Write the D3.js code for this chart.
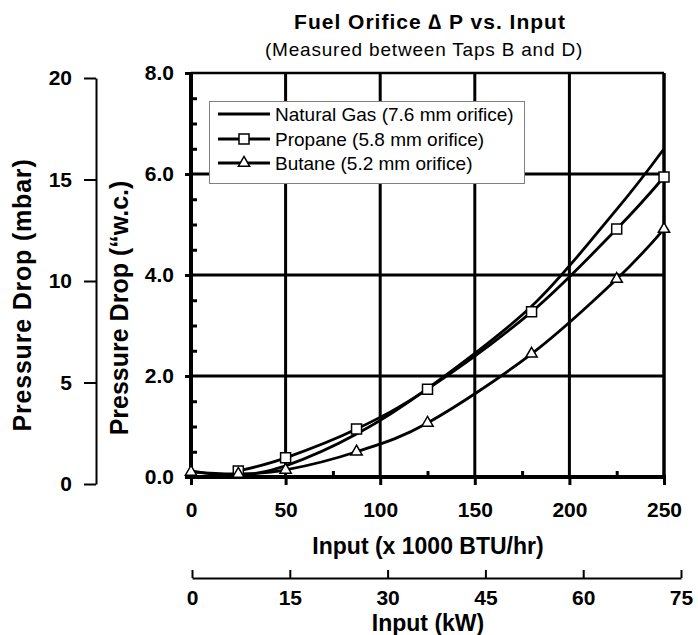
<!DOCTYPE html>
<html>
<head>
<meta charset="utf-8">
<script src="https://cdn.jsdelivr.net/npm/d3@7"></script>
<style>
  body { margin: 0; background: #fff; }
  svg { font-family: "Liberation Sans", Arial, sans-serif; }
</style>
</head>
<body>
<svg id="chart" width="698" height="635"></svg>
<script>
// input in 1000 BTU/hr, pressure drop in "w.c.
const gasInputs = [0, 25, 50, 87.5, 125, 180, 225, 250];
const naturalGas = [0.12, 0.03, 0.22, 0.85, 1.75, 3.38, 5.3, 6.5];
const propaneInputs = [25, 50, 87.5, 125, 180, 225, 250];
const propane = [0.12, 0.38, 0.95, 1.74, 3.27, 4.91, 5.94];
const butaneInputs = [0, 25, 50, 87.5, 125, 180, 225, 250];
const butane = [0.1, 0.06, 0.14, 0.5, 1.07, 2.44, 3.92, 4.91];

const seriesNames = ["Natural Gas (7.6 mm orifice)", "Propane (5.8 mm orifice)", "Butane (5.2 mm orifice)"];

const xTicks = [0, 50, 100, 150, 200, 250];
const xMinorTicks = [25, 75, 125, 175, 225];
const xGrid = [50, 100, 150, 200];
const yTicks = [0, 2, 4, 6, 8];
const yMinorTicks = [0.5, 1, 1.5, 2.5, 3, 3.5, 4.5, 5, 5.5, 6.5, 7, 7.5];
const yGrid = [2, 4, 6];
const mbarTicks = [0, 5, 10, 15, 20];
const kwTicks = [0, 15, 30, 45, 60, 75];

const svg = d3.select("#chart");

const x = d3.scaleLinear().domain([0, 250]).range([191, 664]);
const y = d3.scaleLinear().domain([0, 8]).range([477, 73]);
const mbar = d3.scaleLinear().domain([0, 20]).range([484, 78]);
const kw = d3.scaleLinear().domain([0, 75]).range([192, 681]);

// grid
svg.append("g").selectAll("line")
    .data(xGrid).enter().append("line")
    .attr("x1", d => x(d)).attr("x2", d => x(d))
    .attr("y1", y(8)).attr("y2", y(0))
    .attr("stroke", "#000").attr("stroke-width", 3);
svg.append("g").selectAll("line")
    .data(yGrid).enter().append("line")
    .attr("x1", x(0)).attr("x2", x(250))
    .attr("y1", d => y(d)).attr("y2", d => y(d))
    .attr("stroke", "#000").attr("stroke-width", 3);

// frame
svg.append("line").attr("x1", x(0)).attr("x2", x(250)).attr("y1", y(8)).attr("y2", y(8))
    .attr("stroke", "#000").attr("stroke-width", 2.5);
svg.append("line").attr("x1", x(250)).attr("x2", x(250)).attr("y1", y(8)).attr("y2", y(0))
    .attr("stroke", "#000").attr("stroke-width", 3.5);

function styleAxis(g, size, width) {
    g.selectAll("text")
        .attr("font-family", "Liberation Sans, Arial, sans-serif")
        .attr("font-size", size).attr("font-weight", "bold").attr("fill", "#000");
    g.selectAll("line").attr("stroke", "#000").attr("stroke-width", width);
    g.attr("font-family", null).attr("font-size", null);
}

// main x axis
const xAxis = svg.append("g").attr("transform", "translate(0," + y(0) + ")")
    .call(d3.axisBottom(x).tickValues(xTicks).tickSizeInner(8).tickSizeOuter(0).tickPadding(17));
xAxis.select(".domain").remove();
styleAxis(xAxis, 21, 3);
const xMinor = svg.append("g").attr("transform", "translate(0," + y(0) + ")")
    .call(d3.axisBottom(x).tickValues(xMinorTicks).tickSize(-6).tickFormat(""));
xMinor.select(".domain").remove();
styleAxis(xMinor, 21, 3);

// main y axis
const yAxis = svg.append("g").attr("transform", "translate(" + x(0) + ",0)")
    .call(d3.axisLeft(y).tickValues(yTicks).tickSizeInner(6).tickSizeOuter(0).tickPadding(11).tickFormat(d3.format(".1f")));
yAxis.select(".domain").remove();
styleAxis(yAxis, 21, 3);
const yMinor = svg.append("g").attr("transform", "translate(" + x(0) + ",0)")
    .call(d3.axisLeft(y).tickValues(yMinorTicks).tickSize(-6).tickFormat(""));
yMinor.select(".domain").remove();
styleAxis(yMinor, 21, 3);

svg.append("line").attr("x1", x(0)).attr("x2", x(0)).attr("y1", y(8) - 1).attr("y2", y(0) + 2)
    .attr("stroke", "#000").attr("stroke-width", 4);
svg.append("line").attr("x1", x(0) - 2).attr("x2", x(250) + 2).attr("y1", y(0)).attr("y2", y(0))
    .attr("stroke", "#000").attr("stroke-width", 4);

// mbar axis
const mbarAxis = svg.append("g").attr("transform", "translate(96,0)")
    .call(d3.axisLeft(mbar).tickValues(mbarTicks).tickSizeInner(12).tickSizeOuter(0).tickPadding(12));
mbarAxis.select(".domain").attr("stroke", "#000").attr("stroke-width", 2);
styleAxis(mbarAxis, 21, 2);

// kW axis
const kwAxis = svg.append("g").attr("transform", "translate(0,578)")
    .call(d3.axisBottom(kw).tickValues(kwTicks).tickSizeInner(-8).tickSizeOuter(0).tickPadding(12));
kwAxis.select(".domain").attr("stroke", "#000").attr("stroke-width", 2);
styleAxis(kwAxis, 21, 2);

// titles
svg.append("text").attr("x", 430).attr("y", 29).attr("text-anchor", "middle")
    .attr("font-size", 21).attr("font-weight", "bold").attr("letter-spacing", 1)
    .text("Fuel Orifice \u2206 P vs. Input");
svg.append("text").attr("x", 424).attr("y", 56).attr("text-anchor", "middle")
    .attr("font-size", 19).attr("letter-spacing", 0.8)
    .text("(Measured between Taps B and D)");
svg.append("text").attr("x", 428).attr("y", 554).attr("text-anchor", "middle")
    .attr("font-size", 23).attr("font-weight", "bold")
    .text("Input (x 1000 BTU/hr)");
svg.append("text").attr("x", 428).attr("y", 631).attr("text-anchor", "middle")
    .attr("font-size", 23).attr("font-weight", "bold")
    .text("Input (kW)");
svg.append("text").attr("transform", "translate(31,295) rotate(-90)").attr("text-anchor", "middle")
    .attr("font-size", 25).attr("font-weight", "bold").attr("letter-spacing", 0.8)
    .text("Pressure Drop (mbar)");
svg.append("text").attr("transform", "translate(128,308) rotate(-90)").attr("text-anchor", "middle")
    .attr("font-size", 25).attr("font-weight", "bold")
    .text("Pressure Drop (\u201cw.c.)");

// series
const line = d3.line()
    .x(d => x(d[0])).y(d => y(d[1]))
    .curve(d3.curveCardinal.tension(0));

const ngData = d3.zip(gasInputs, naturalGas);
const prData = d3.zip(propaneInputs, propane);
const buData = d3.zip(butaneInputs, butane);

[ngData, prData, buData].forEach(function(data) {
    svg.append("path").datum(data)
        .attr("d", line)
        .attr("fill", "none").attr("stroke", "#000").attr("stroke-width", 2.8);
});

const square = d3.symbol(d3.symbolSquare, 100);
const triangle = d3.symbol(d3.symbolTriangle, 55);

svg.append("g").selectAll("path")
    .data(prData).enter().append("path")
    .attr("transform", d => "translate(" + x(d[0]) + "," + y(d[1]) + ")")
    .attr("d", square)
    .attr("fill", "#fff").attr("stroke", "#000").attr("stroke-width", 1.5);
svg.append("g").selectAll("path")
    .data(buData).enter().append("path")
    .attr("transform", d => "translate(" + x(d[0]) + "," + y(d[1]) + ")")
    .attr("d", triangle)
    .attr("fill", "#fff").attr("stroke", "#000").attr("stroke-width", 1.5);

// legend
const legend = svg.append("g");
legend.append("rect").attr("x", 209.5).attr("y", 101.5).attr("width", 315).attr("height", 82)
    .attr("fill", "#fff").attr("stroke", "#808080").attr("stroke-width", 1);
const rowY = [114, 139, 163];
const markers = [null, square, triangle];
seriesNames.forEach(function(name, i) {
    legend.append("line").attr("x1", 218).attr("x2", 270).attr("y1", rowY[i]).attr("y2", rowY[i])
        .attr("stroke", "#000").attr("stroke-width", 2.8);
    if (markers[i]) {
        legend.append("path").attr("transform", "translate(244," + rowY[i] + ")")
            .attr("d", markers[i])
            .attr("fill", "#fff").attr("stroke", "#000").attr("stroke-width", 1.5);
    }
    legend.append("text").attr("x", 275).attr("y", rowY[i]).attr("dy", "0.35em")
        .attr("font-size", 19).text(name);
});
</script>
</body>
</html>
